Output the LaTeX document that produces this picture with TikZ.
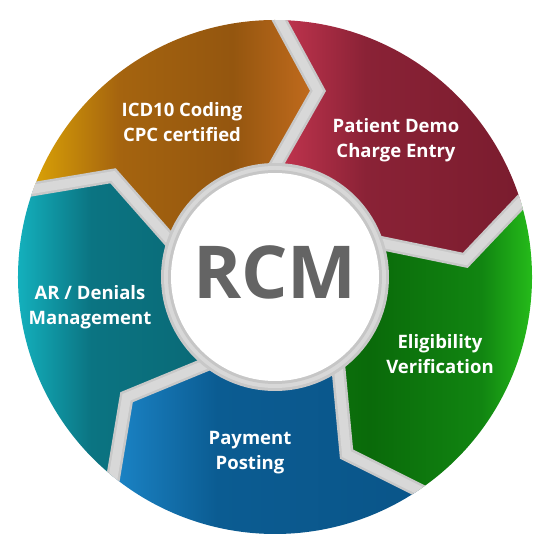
\documentclass[tikz,border=0pt]{standalone}
\usepackage{fontspec}
\setmainfont{Open Sans}
\usetikzlibrary{calc}
\definecolor{oL}{HTML}{D9A106}
\definecolor{oM}{HTML}{A5640F}
\definecolor{oN}{HTML}{94560F}
\definecolor{oR}{HTML}{C46C1E}
\definecolor{rL}{HTML}{CC3853}
\definecolor{rM}{HTML}{8A2236}
\definecolor{rR}{HTML}{7A1C2E}
\definecolor{gL}{HTML}{0E7A0E}
\definecolor{gM}{HTML}{0A6A0A}
\definecolor{gN}{HTML}{118511}
\definecolor{gR}{HTML}{2ED21E}
\definecolor{bL}{HTML}{1B84C6}
\definecolor{bM}{HTML}{0B5C92}
\definecolor{bR}{HTML}{0A5589}
\definecolor{tL}{HTML}{16C2CE}
\definecolor{tM}{HTML}{0B7482}
\definecolor{tN}{HTML}{0A6B78}
\definecolor{tR}{HTML}{0C7A88}
\definecolor{gapc}{HTML}{D8D8D8}
\definecolor{gape}{HTML}{C8C8C8}
\definecolor{ringc}{HTML}{C6C6C6}
\definecolor{rcmc}{HTML}{646464}
\pgfdeclarehorizontalshading{shO}{100bp}{color(0bp)=(oL); color(25bp)=(oL); color(40bp)=(oM); color(60bp)=(oN); color(75bp)=(oR); color(100bp)=(oR)}
\pgfdeclarehorizontalshading{shR}{100bp}{color(0bp)=(rL); color(25bp)=(rL); color(45bp)=(rM); color(75bp)=(rR); color(100bp)=(rR)}
\pgfdeclarehorizontalshading{shG}{100bp}{color(0bp)=(gL); color(25bp)=(gL); color(42bp)=(gM); color(62bp)=(gN); color(75bp)=(gR); color(100bp)=(gR)}
\pgfdeclarehorizontalshading{shB}{100bp}{color(0bp)=(bL); color(25bp)=(bL); color(42bp)=(bM); color(75bp)=(bR); color(100bp)=(bR)}
\pgfdeclarehorizontalshading{shT}{100bp}{color(0bp)=(tL); color(25bp)=(tL); color(42bp)=(tM); color(60bp)=(tN); color(75bp)=(tR); color(100bp)=(tR)}
\tikzset{
  gapline/.style={draw=gape,line width=14pt,line join=miter},
  gapinner/.style={draw=gapc,line width=9pt,line join=miter},
  lbl/.style={text=white,font=\bfseries\fontsize{18.5}{25}\selectfont,align=center,inner sep=0pt}
}
\begin{document}
\begin{tikzpicture}[x=1pt,y=1pt]
\useasboundingbox (0,0) rectangle (550,550);
\fill[white] (0,0) rectangle (550,550);
\begin{scope}[shift={(275,273)}]
\foreach \i/\t in {1/77,2/5,3/-68,4/-141,5/148}{
  \coordinate (t\i) at (\t:191);
  \coordinate (o\i) at (\t+12:257);
  \coordinate (n\i) at (\t+12:114);
}
\foreach \i in {1,...,5}{
  \coordinate (x\i) at ($(t\i)!1.35!(n\i)$);
  \coordinate (e\i) at ($(t\i)!1.4!(o\i)$);
}
\coordinate (c) at (0,0);
% segments
\shade[shading=shO]
  (c) -- (x5) -- (t5) -- (o5) arc[start angle=160,end angle=89,radius=257] -- (t1) -- (x1) -- cycle;
\shade[shading=shR]
  (c) -- (x1) -- (t1) -- (o1) arc[start angle=89,end angle=17,radius=257] -- (t2) -- (x2) -- cycle;
\shade[shading=shG]
  (c) -- (x2) -- (t2) -- (o2) arc[start angle=17,end angle=-56,radius=257] -- (t3) -- (x3) -- cycle;
\shade[shading=shB]
  (c) -- (x3) -- (t3) -- (o3) arc[start angle=-56,end angle=-129,radius=257] -- (t4) -- (x4) -- cycle;
\shade[shading=shT]
  (c) -- (x4) -- (t4) -- (o4) arc[start angle=-129,end angle=-200,radius=257] -- (t5) -- (x5) -- cycle;
% gaps
\begin{scope}
\clip (c) circle[radius=257];
\foreach \i in {1,...,5}{
  \draw[gapline] (e\i) -- (t\i) -- (x\i);
  \draw[gapinner] (e\i) -- (t\i) -- (x\i);
}
\end{scope}
% centre ring
\fill[gape] (c) circle[radius=114];
\fill[gapc] (c) circle[radius=111];
\fill[ringc] (c) circle[radius=107];
\fill[white] (c) circle[radius=104];
\end{scope}
\node[text=rcmc,font=\bfseries\fontsize{73}{73}\selectfont,inner sep=0pt] (rcm) at (275,278) {RCM};
\node[lbl] (icd) at (182,428) {ICD10 Coding\\CPC certified};
\node[lbl] (pat) at (396,410) {Patient Demo\\Charge Entry};
\node[lbl] (eli) at (440,196) {Eligibility\\Verification};
\node[lbl] (pay) at (250,97) {Payment\\Posting};
\node[lbl] (ar) at (90,243) {AR / Denials\\Management};
\end{tikzpicture}
\end{document}
